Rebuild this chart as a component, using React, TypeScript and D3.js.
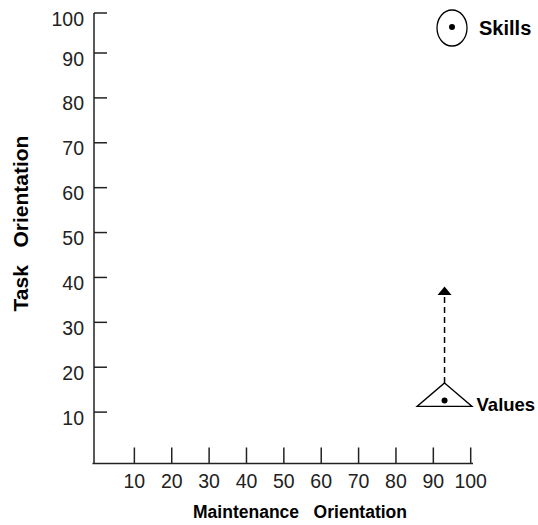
import React from "react";
import * as d3 from "d3";

const xTicks = [10, 20, 30, 40, 50, 60, 70, 80, 90, 100];
const yTicks = [10, 20, 30, 40, 50, 60, 70, 80, 90, 100];
const xTitle = "Maintenance   Orientation";
const yTitle = "Task   Orientation";

const skillsPoint = { label: "Skills", x: 95, y: 96.5 };
const valuesPoint = { label: "Values", x: 93, y: 12.6 };
const valuesArrowTo = 38;

const W = 538;
const H = 525;

export default function App() {
  const x = d3.scaleLinear().domain([0, 100]).range([97, 470.7]);
  const y = d3.scaleLinear().domain([0, 90, 100]).range([457, 53, 13]);
  const axisX = 94;
  const axisY = 463.5;
  const ink = "#222";
  const font = "'Liberation Sans', Arial, sans-serif";

  const vx = x(valuesPoint.x);
  const vy = y(valuesPoint.y);
  const triPath = d3.path();
  triPath.moveTo(vx, vy - 17.5);
  triPath.lineTo(vx + 27.5, vy + 6);
  triPath.lineTo(vx - 27.5, vy + 6);
  triPath.closePath();

  const tipY = y(valuesArrowTo);
  const headPath = d3.path();
  headPath.moveTo(vx, tipY);
  headPath.lineTo(vx + 7, tipY + 8.5);
  headPath.lineTo(vx - 7, tipY + 8.5);
  headPath.closePath();

  const sx = x(skillsPoint.x);
  const sy = y(skillsPoint.y);

  return (
    <svg
      width={W}
      height={H}
      style={{ position: "absolute", left: 0, top: 0, background: "#fff" }}
      fontFamily={font}
    >
      {/* axes */}
      <line x1={axisX} x2={axisX} y1={y(100)} y2={axisY} stroke={ink} strokeWidth={1.5} />
      <line x1={92.5} x2={473} y1={axisY} y2={axisY} stroke={ink} strokeWidth={1.5} />

      {yTicks.map((t) => (
        <g key={"y" + t}>
          <line x1={axisX} x2={axisX + 13} y1={y(t)} y2={y(t)} stroke={ink} strokeWidth={1.5} />
          <text
            x={84}
            y={y(t) + 5.5}
            textAnchor="end"
            dominantBaseline="central"
            fontSize={19.5}
            fill={ink}
          >
            {t}
          </text>
        </g>
      ))}

      {xTicks.map((t) => (
        <g key={"x" + t}>
          <line x1={x(t)} x2={x(t)} y1={axisY - 16} y2={axisY} stroke={ink} strokeWidth={1.5} />
          <text x={x(t)} y={488} textAnchor="middle" fontSize={19.5} fill={ink}>
            {t}
          </text>
        </g>
      ))}

      <text
        x={300}
        y={518}
        textAnchor="middle"
        fontSize={17.5}
        fontWeight="bold"
        fill="#000"
        style={{ whiteSpace: "pre" }}
      >
        {xTitle}
      </text>
      <text
        transform={`translate(20,223.5) rotate(-90)`}
        textAnchor="middle"
        dominantBaseline="central"
        fontSize={21}
        fontWeight="bold"
        fill="#000"
        style={{ whiteSpace: "pre" }}
      >
        {yTitle}
      </text>

      {/* Skills */}
      <ellipse cx={sx} cy={sy + 1} rx={15} ry={18} fill="none" stroke="#000" strokeWidth={1.3} />
      <circle cx={sx} cy={sy} r={3} fill="#000" />
      <text x={sx + 27} y={sy + 1} dominantBaseline="central" fontSize={20} fontWeight="bold" fill="#000">
        {skillsPoint.label}
      </text>

      {/* Values */}
      <line
        x1={vx}
        x2={vx}
        y1={vy - 17.5}
        y2={tipY + 8}
        stroke="#000"
        strokeWidth={1.5}
        strokeDasharray="6,4"
      />
      <path d={headPath.toString()} fill="#000" />
      <path d={triPath.toString()} fill="#fff" stroke="#000" strokeWidth={1.3} />
      <circle cx={vx} cy={vy} r={3} fill="#000" />
      <text x={vx + 32} y={vy + 4} dominantBaseline="central" fontSize={18.5} fontWeight="bold" fill="#000">
        {valuesPoint.label}
      </text>
    </svg>
  );
}
